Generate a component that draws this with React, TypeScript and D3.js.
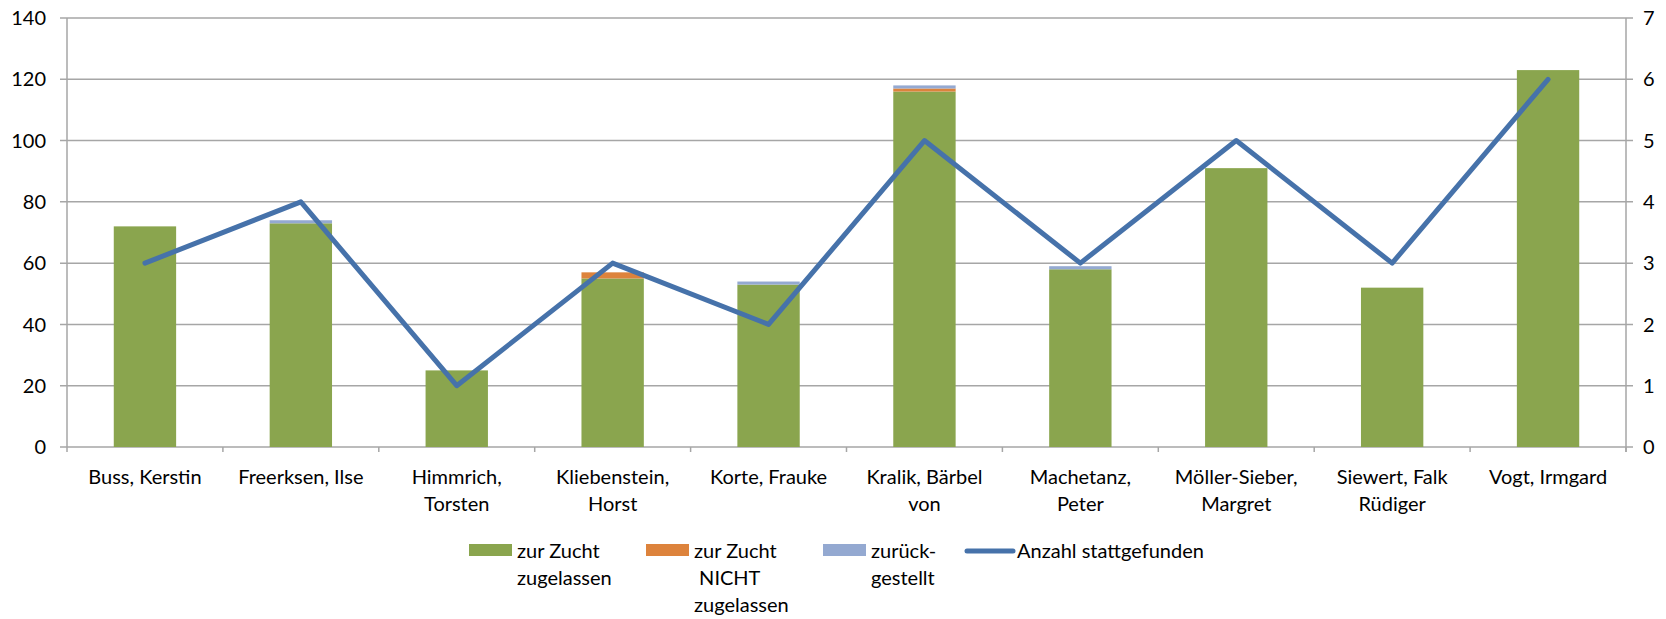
import * as d3 from "d3"
import React from "react"

const categories = [
  ["Buss, Kerstin"],
  ["Freerksen, Ilse"],
  ["Himmrich,", "Torsten"],
  ["Kliebenstein,", "Horst"],
  ["Korte, Frauke"],
  ["Kralik, Bärbel", "von"],
  ["Machetanz,", "Peter"],
  ["Möller-Sieber,", "Margret"],
  ["Siewert, Falk", "Rüdiger"],
  ["Vogt, Irmgard"],
]
const zugelassen = [72, 73, 25, 55, 53, 116, 58, 91, 52, 123]
const nichtZugelassen = [0, 0, 0, 2, 0, 1, 0, 0, 0, 0]
const zurueckgestellt = [0, 1, 0, 0, 1, 1, 1, 0, 0, 0]
const anzahl = [3, 4, 1, 3, 2, 5, 3, 5, 3, 6]
const leftTicks = [0, 20, 40, 60, 80, 100, 120, 140]
const rightTicks = [0, 1, 2, 3, 4, 5, 6, 7]

const barSeries = [
  { name: ["zur Zucht", "zugelassen"], values: zugelassen, color: "#8aa54e" },
  { name: ["zur Zucht", " NICHT", "zugelassen"], values: nichtZugelassen, color: "#dd833c" },
  { name: ["zurück-", "gestellt"], values: zurueckgestellt, color: "#94a9d1" },
]
const lineName = "Anzahl stattgefunden"
const lineColor = "#4672aa"

export default function App() {
  const W = 1666, H = 619
  const left = 67, right = 1626, top = 18, bottom = 447
  const font = "Lato, 'Open Sans', sans-serif"
  const fs = 20
  const grid = "#a6a6a6"

  const idx = categories.map((_, i) => i)
  const x = d3.scaleBand<number>().domain(idx).range([left, right]).paddingInner(0.6).paddingOuter(0.3)
  const xOuter = d3.scaleBand<number>().domain(idx).range([left, right])
  const yL = d3.scaleLinear().domain([0, 140]).range([bottom, top])
  const yR = d3.scaleLinear().domain([0, 7]).range([bottom, top])

  const stackData = idx.map(i => ({ a: zugelassen[i], b: nichtZugelassen[i], c: zurueckgestellt[i] }))
  const stacks = d3.stack<any>().keys(["a", "b", "c"])(stackData)

  const line = d3.line<number>()
    .x((_, i) => (xOuter(i) as number) + xOuter.bandwidth() / 2)
    .y(d => yR(d))(anzahl)

  const legendX = [469, 646, 823]
  return (
    <svg width={W} height={H} style={{ position: "absolute", left: 0, top: 0 }} fontFamily={font} fontSize={fs}>
      <rect width={W} height={H} fill="#fff" />
      {leftTicks.map(t => (
        <g key={t}>
          <line x1={left - 7} x2={right + 7} y1={yL(t)} y2={yL(t)} stroke={grid} strokeWidth={1.5} />
          <text x={46} y={yL(t)} dy="0.36em" textAnchor="end" fill="#000">{t}</text>
        </g>
      ))}
      {rightTicks.map(t => (
        <text key={t} x={1643} y={yR(t)} dy="0.36em" textAnchor="start" fill="#000">{t}</text>
      ))}
      <line x1={left} x2={left} y1={top} y2={bottom + 5} stroke={grid} strokeWidth={1.5} />
      <line x1={right} x2={right} y1={top} y2={bottom + 5} stroke={grid} strokeWidth={1.5} />
      {idx.map(i => (
        <line key={i} x1={(xOuter(i) as number) + xOuter.bandwidth()} x2={(xOuter(i) as number) + xOuter.bandwidth()} y1={bottom} y2={bottom + 5} stroke={grid} strokeWidth={1.5} />
      ))}
      {stacks.map((s, k) => (
        <g key={k} fill={barSeries[k].color}>
          {s.map((d, i) => d[1] - d[0] > 0 && (
            <rect key={i} x={x(i)} width={x.bandwidth()} y={yL(d[1])} height={yL(d[0]) - yL(d[1])} />
          ))}
        </g>
      ))}
      <path d={line || ""} fill="none" stroke={lineColor} strokeWidth={5} strokeLinejoin="round" strokeLinecap="round" />
      {categories.map((lines, i) => (
        <text key={i} x={(xOuter(i) as number) + xOuter.bandwidth() / 2} y={484} textAnchor="middle" fill="#000">
          {lines.map((l, j) => <tspan key={j} x={(xOuter(i) as number) + xOuter.bandwidth() / 2} y={484 + j * 26.5}>{l}</tspan>)}
        </text>
      ))}
      {barSeries.map((s, k) => (
        <g key={k} transform={`translate(${legendX[k]},0)`}>
          <rect x={0} y={544} width={43} height={12} fill={s.color} />
          <text x={48} y={558} fill="#000" style={{ whiteSpace: "pre" }}>
            {s.name.map((l, j) => <tspan key={j} x={48} y={558 + j * 27}>{l}</tspan>)}
          </text>
        </g>
      ))}
      <line x1={967} x2={1013} y1={551} y2={551} stroke={lineColor} strokeWidth={5} strokeLinecap="round" />
      <text x={1017} y={558} fill="#000">{lineName}</text>
    </svg>
  )
}
